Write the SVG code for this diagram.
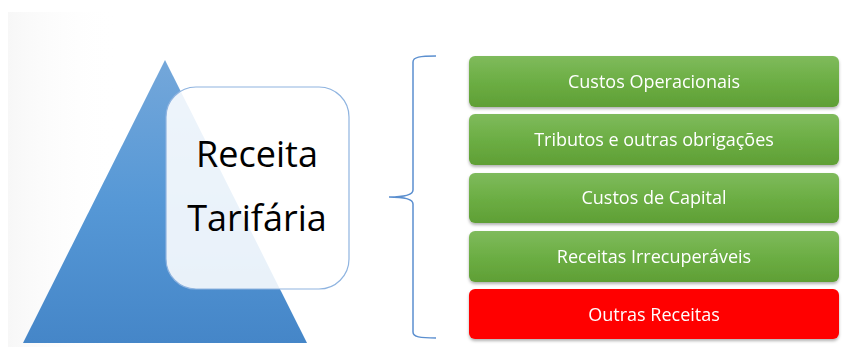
<svg xmlns="http://www.w3.org/2000/svg" width="847" height="354" viewBox="0 0 847 354">
<defs>
<linearGradient id="tri" x1="0" y1="0" x2="0" y2="1"><stop offset="0" stop-color="#74a7da"/><stop offset="0.5" stop-color="#5698d6"/><stop offset="1" stop-color="#4586c8"/></linearGradient>
<linearGradient id="grn" x1="0" y1="0" x2="0" y2="1"><stop offset="0" stop-color="#7fbb5c"/><stop offset="0.5" stop-color="#6cae44"/><stop offset="1" stop-color="#5f9f35"/></linearGradient>
<linearGradient id="bg" x1="0" y1="0" x2="1" y2="0"><stop offset="0" stop-color="#f7f7f7"/><stop offset="1" stop-color="#ffffff" stop-opacity="0"/></linearGradient>
<filter id="sh" x="-5%" y="-20%" width="110%" height="150%"><feDropShadow dx="0" dy="2" stdDeviation="1.5" flood-color="#000" flood-opacity="0.3"/></filter>
</defs>
<style>
.lbl{font-family:"Open Sans","Liberation Sans",Arial,sans-serif;font-size:18px;fill:#ffffff;text-anchor:middle}
.big{font-family:"Open Sans","Liberation Sans",Arial,sans-serif;font-size:36px;fill:#000000;text-anchor:middle}
.box{filter:url(#sh)}
</style>
<rect width="847" height="354" fill="#ffffff"/>
<rect x="8" y="12" width="110" height="335" fill="url(#bg)"/>
<g id="triangle"><polygon points="165,60 307,343 23,343" fill="url(#tri)"/></g>
<g id="receita">
<rect x="166" y="87" width="183" height="202" rx="30" fill="#ffffff" fill-opacity="0.88" stroke="#8fb4e0" stroke-width="1.2"/>
<text class="big" x="257" y="167">Receita</text>
<text class="big" x="257" y="231">Tarifária</text>
</g>
<g id="connectors">
<path d="M436,56 C420,56 413,57 413,62 L413,190 C413,195 405,197 389,197 C405,197 413,199 413,204 L413,332 C413,337 420,338 436,338" fill="none" stroke="#5b8fcf" stroke-width="1.5"/>
</g>
<g id="n1" class="box"><rect x="469" y="56" width="370" height="51" rx="6" fill="url(#grn)"/><text class="lbl" x="654" y="88">Custos Operacionais</text></g>
<g id="n2" class="box"><rect x="469" y="114" width="370" height="51" rx="6" fill="url(#grn)"/><text class="lbl" x="654" y="146">Tributos e outras obrigações</text></g>
<g id="n3" class="box"><rect x="469" y="173" width="370" height="50" rx="6" fill="url(#grn)"/><text class="lbl" x="654" y="204">Custos de Capital</text></g>
<g id="n4" class="box"><rect x="469" y="231" width="370" height="51" rx="6" fill="url(#grn)"/><text class="lbl" x="654" y="263">Receitas Irrecuperáveis</text></g>
<g id="n5" class="box"><rect x="469" y="289" width="370" height="50" rx="6" fill="#ff0000"/><text class="lbl" x="654" y="321">Outras Receitas</text></g>
</svg>
